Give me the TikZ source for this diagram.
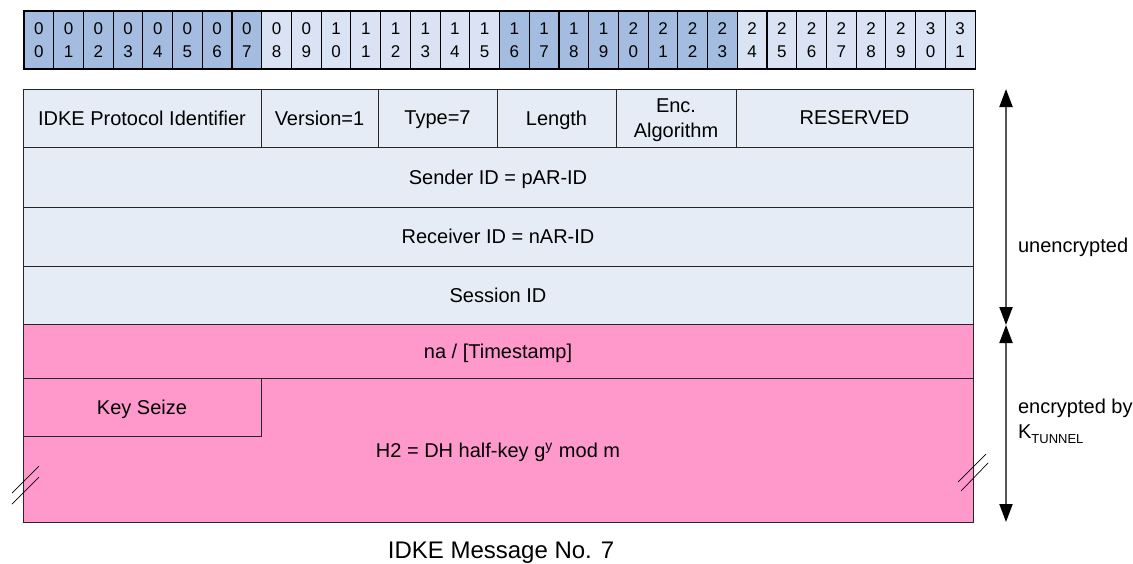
\documentclass[tikz,border=0pt]{standalone}
\usepackage{fontspec}
\setmainfont{Liberation Sans}
\usetikzlibrary{arrows.meta,positioning}
\definecolor{bitdark}{RGB}{163,188,224}
\definecolor{bitlight}{RGB}{218,227,243}
\definecolor{plaincol}{RGB}{230,236,246}
\definecolor{cryptcol}{RGB}{255,153,204}
\definecolor{arrowcol}{RGB}{85,85,85}
\newcommand{\Ktun}{K\raisebox{-0.45ex}{\fontsize{6.5}{7}\selectfont TUNNEL}}

\begin{document}
\begin{tikzpicture}[x=0.5pt,y=-0.5pt,
  bitcell/.style={draw,line width=0.55pt,minimum width=14.86pt,minimum height=29pt,inner sep=0pt,outer sep=0pt,align=center,font=\fontsize{8.5}{11.5}\selectfont},
  fieldbase/.style={draw=black!85,line width=0.5pt,inner sep=0pt,outer sep=0pt,align=center,font=\fontsize{10}{12.5}\selectfont},
  field/.style={fieldbase,text depth=0pt},
  side/.style={draw=arrowcol,line width=1pt,{Triangle[width=6.5pt,length=9pt,color=black]}-{Triangle[width=6.5pt,length=9pt,color=black]}},
  brk/.style={line width=0.35pt}]
\useasboundingbox (0,0) rectangle (1133,563);
% bit ruler
\foreach \i in {0,...,31}{
  \pgfmathtruncatemacro{\tens}{div(\i,10)}
  \pgfmathtruncatemacro{\ones}{mod(\i,10)}
  \pgfmathtruncatemacro{\grp}{mod(div(\i,8),2)}
  \ifnum\grp=0 \def\bitfill{bitdark}\else\def\bitfill{bitlight}\fi
  \node[bitcell,fill=\bitfill,anchor=north west] (bit\i) at ({24+29.72*\i},11) {\tens\\\ones};
}
% first row
\node[field,fill=plaincol,minimum width=119pt,minimum height=29pt,anchor=north west] (ident) at (23,89) {IDKE Protocol Identifier};
\node[field,fill=plaincol,minimum width=58.5pt,minimum height=29pt,right=0pt of ident] (vers) {Version=1};
\node[field,fill=plaincol,minimum width=59.5pt,minimum height=29pt,right=0pt of vers] (type) {Type=7};
\node[field,fill=plaincol,minimum width=59.5pt,minimum height=29pt,right=0pt of type] (len) {Length};
\node[fieldbase,fill=plaincol,minimum width=60pt,minimum height=29pt,right=0pt of len] (alg) {\rule{0pt}{9.3pt}Enc.\\Algorithm};
\node[field,fill=plaincol,minimum width=118.5pt,minimum height=29pt,right=0pt of alg] (resv) {RESERVED};
% plain rows
\node[field,fill=plaincol,minimum width=475pt,minimum height=30pt,below=0pt of ident.south west,anchor=north west] (sender) {Sender ID = pAR-ID};
\node[field,fill=plaincol,minimum width=475pt,minimum height=29.5pt,below=0pt of sender] (recv) {Receiver ID = nAR-ID};
\node[field,fill=plaincol,minimum width=475pt,minimum height=29pt,below=0pt of recv] (sess) {Session ID};
% encrypted rows
\node[field,fill=cryptcol,minimum width=475pt,minimum height=27pt,below=0pt of sess] (nonce) {na / [Timestamp]};
\node[field,fill=cryptcol,minimum width=475pt,minimum height=72pt,below=0pt of nonce] (half) {H2 = DH half-key g\textsuperscript{y} mod m};
\node[field,fill=cryptcol,minimum width=119pt,minimum height=29pt,anchor=north west] (keysz) at (half.north west) {Key Seize};
% break marks
\draw[brk] (12,493) -- (39,466);
\draw[brk] (12,504) -- (39,477);
\draw[brk] (958,482) -- (986,454);
\draw[brk] (961,491) -- (988,463);
% side arrows
\coordinate (utop) at (1006,89);
\coordinate (umid) at (1006,325);
\coordinate (ebot) at (1006,522);
\draw[side] (utop) -- (umid);
\draw[side] (umid) -- (ebot);
\node[anchor=west,font=\fontsize{10}{12.5}\selectfont] (plainlbl) at (1011,247) {unencrypted};
\node[anchor=west,align=left,font=\fontsize{10}{12.5}\selectfont] (cryptlbl) at (1011,421) {encrypted by\\\Ktun};
% caption
\node[anchor=base,font=\fontsize{12}{14}\selectfont] (caption) at (501,558) {IDKE Message No. 7};
\end{tikzpicture}
\end{document}
